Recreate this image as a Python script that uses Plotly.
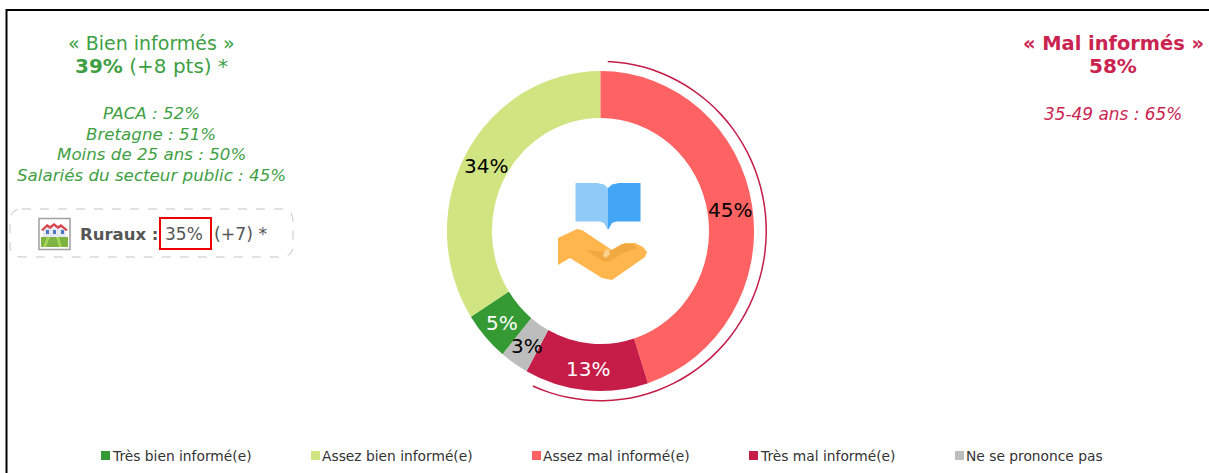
import math
import plotly.graph_objects as go

W, H = 1209, 473

# ---- data ----
categories = ["Très bien informé(e)", "Assez bien informé(e)", "Assez mal informé(e)",
              "Très mal informé(e)", "Ne se prononce pas"]
values = [5, 34, 45, 13, 3]
bad_arc = [56, 44]  # thin arc around the "mal informés" slices
left_title = "« Bien informés »"
left_score = "<b>39%</b> (+8 pts) *"
left_details = ["PACA : 52%", "Bretagne : 51%", "Moins de 25 ans : 50%",
                "Salariés du secteur public : 45%"]
right_title = "<b>« Mal informés »</b>"
right_score = "<b>58%</b>"
right_details = ["35-49 ans : 65%"]

# ---- style ----
colors = ["#359A34", "#D0E582", "#FF6263", "#C51C48", "#BDBDBD"]
label_colors = ["white", "black", "black", "white", "black"]
GREEN = "#3F9F45"
RED = "#CB2350"
FONT = "DejaVu Sans"
CX, CY, R = 600.5, 231, 157
RA = 168
legend_x = [101, 311, 532, 749, 955]


def xp(x):
    return x / W


def yp(y):
    return 1 - y / H


def dom(cx, cy, r):
    return dict(x=[xp(cx - r), xp(cx + r)], y=[yp(cy + r), yp(cy - r)])


def path(pts, close=True):
    s = "M" + " L".join(f"{xp(x):.5f},{yp(y):.5f}" for x, y in pts)
    return s + (" Z" if close else "")


start_angle = 360 - (values[0] + values[1]) * 3.6

fig = go.Figure()
fig.add_trace(go.Pie(
    labels=categories, values=values, sort=False, direction="clockwise",
    rotation=start_angle,
    hole=0.707, domain=dom(CX, CY, R),
    marker=dict(colors=colors, line=dict(width=0)),
    textinfo="none",
    showlegend=False, hoverinfo="label+percent",
))
fig.add_trace(go.Pie(
    values=bad_arc, sort=False, direction="clockwise", rotation=2.5,
    hole=0.991, domain=dom(CX, CY, RA),
    marker=dict(colors=[colors[3], "rgba(0,0,0,0)"], line=dict(width=0)),
    textinfo="none", showlegend=False, hoverinfo="skip",
))

shapes = []
ann = []


def text(x, y, s, size, color, italic=False, anchor="center"):
    ann.append(dict(x=xp(x), y=yp(y), xref="paper", yref="paper", text=s, showarrow=False,
                    xanchor=anchor, yanchor="middle", align="center", borderpad=0,
                    font=dict(family=FONT, size=size, color=color,
                              style="italic" if italic else "normal")))


def poly(pts, fill, line=None, lw=0):
    shapes.append(dict(type="path", xref="paper", yref="paper", path=path(pts), fillcolor=fill,
                       line=dict(color=line or fill, width=lw), layer="above"))


# frame
shapes.append(dict(type="line", xref="paper", yref="paper", x0=xp(6.5), x1=xp(6.5), y0=yp(9), y1=yp(473),
                   line=dict(color="black", width=2)))
shapes.append(dict(type="line", xref="paper", yref="paper", x0=xp(6), x1=1, y0=yp(10), y1=yp(10),
                   line=dict(color="black", width=2)))

# headline texts
text(151, 43, left_title, 19, GREEN)
text(151, 66, left_score, 20, GREEN)
for y, s in zip([113.5, 133.5, 153.5, 174.5], left_details):
    text(151, y, s, 16.7, GREEN, italic=True)
text(1113, 43, right_title, 19.4, RED)
text(1113, 66, right_score, 20, RED)
text(1113, 114.5, right_details[0], 16.9, RED, italic=True)

# pie labels, placed at each slice's mid-angle
cum = start_angle
for v, c in zip(values, label_colors):
    mid = math.radians(cum + v * 1.8)
    cum += v * 3.6
    text(CX + 131 * math.sin(mid), CY + 1 - 138 * math.cos(mid), f"{v}%", 20, c)

# Ruraux box
x0, x1, y0, y1, r = 10, 293, 209, 257, 12
rounded = (f"M{xp(x0 + r)},{yp(y0)} L{xp(x1 - r)},{yp(y0)} Q{xp(x1)},{yp(y0)} {xp(x1)},{yp(y0 + r)} "
           f"L{xp(x1)},{yp(y1 - r)} Q{xp(x1)},{yp(y1)} {xp(x1 - r)},{yp(y1)} "
           f"L{xp(x0 + r)},{yp(y1)} Q{xp(x0)},{yp(y1)} {xp(x0)},{yp(y1 - r)} "
           f"L{xp(x0)},{yp(y0 + r)} Q{xp(x0)},{yp(y0)} {xp(x0 + r)},{yp(y0)} Z")
shapes.append(dict(type="path", xref="paper", yref="paper", path=rounded,
                   line=dict(color="#C4C4C4", width=1, dash="dash")))
text(79, 234, "<b>Ruraux :</b>", 16.5, "#555555", anchor="left")
text(164, 234, "35%", 17, "#555555", anchor="left")
text(213, 234, "(+7) *", 17.3, "#555555", anchor="left")
shapes.append(dict(type="rect", xref="paper", yref="paper", x0=xp(160), x1=xp(211), y0=yp(218), y1=yp(249),
                   line=dict(color="#EE0000", width=2)))

# Ruraux icon
shapes.append(dict(type="rect", xref="paper", yref="paper", x0=xp(39), x1=xp(70), y0=yp(218.5), y1=yp(249.5),
                   line=dict(color="#A0A0A0", width=1.5), fillcolor="white"))
poly([(41, 237), (68, 237), (68, 247), (41, 247)], "#7CB342")
poly([(47, 237), (50, 237), (46, 247), (43, 247)], "#A5D35A")
poly([(56, 237), (59, 237), (62, 247), (59, 247)], "#A5D35A")
poly([(43, 228), (48, 225), (54, 228), (60, 225), (66, 228), (66, 237), (43, 237)], "#E3E8F2")
poly([(41, 230), (47, 224), (50, 226), (54, 223), (58, 226), (61, 224), (68, 230), (66, 231),
      (61, 227), (58, 229), (54, 226), (50, 229), (47, 227), (43, 231)], "#D9434E")
for wx in (46, 53, 61):
    poly([(wx, 230), (wx + 3, 230), (wx + 3, 234), (wx, 234)], "#4D78C4")

# centre icon
poly([(575.5, 183), (597, 183), (604, 184.5), (608, 188), (608, 230), (604, 223), (600, 221.5), (575.5, 221.5)], "#90CAF9")
poly([(640.5, 183), (619, 183), (612, 184.5), (608, 188), (608, 230), (612, 223), (616, 221.5), (640.5, 221.5)], "#42A5F5")
poly([(558, 238), (577, 229), (582, 230), (603, 244), (612, 250), (625, 243), (635, 243), (643, 247), (647, 252),
      (645, 257), (612, 280), (602, 278), (570, 258), (558, 265)], "#FFB74D")
poly([(608, 252), (622, 244), (632, 244), (638, 248), (623, 253), (608, 262), (603, 261), (585, 250)], "#F0A940")
poly([(605, 250), (609, 249), (610, 254), (606, 258), (603, 256)], "#FFD08A")

# custom legend
for x, c, s in zip(legend_x, colors, categories):
    shapes.append(dict(type="rect", xref="paper", yref="paper", x0=xp(x), x1=xp(x + 9), y0=yp(451), y1=yp(460),
                       fillcolor=c, line=dict(width=0)))
    text(x + 10, 455.5, s, 13.8, "#333333", anchor="left")

fig.update_layout(width=W, height=H, margin=dict(l=0, r=0, t=0, b=0), paper_bgcolor="white",
                  plot_bgcolor="white", shapes=shapes, annotations=ann, showlegend=False)

# the reference donut is slightly taller than wide: stretch each ring about its centre
stretch = f"""
document.body.style.margin='0';document.body.style.overflow='hidden';
var ts=document.querySelectorAll('.pielayer .trace');
var sc=[[0.978,1.019],[0.991,1.015]];
ts.forEach(function(t,i){{
  t.setAttribute('transform','translate({CX},{CY}) scale('+sc[i][0]+','+sc[i][1]+') translate({-CX},{-CY})');
}});
"""
fig.write_html("out.html", config=dict(displayModeBar=False), post_script=stretch)
